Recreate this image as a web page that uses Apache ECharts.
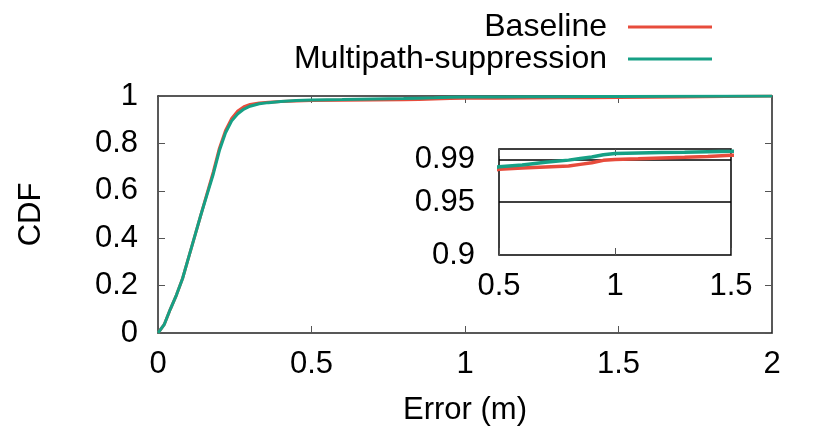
<!DOCTYPE html>
<html>
<head>
<meta charset="utf-8">
<script src="https://cdn.jsdelivr.net/npm/echarts@6/dist/echarts.min.js"></script>
<style>
  html, body { margin: 0; padding: 0; background: #fff; }
  #chart { width: 830px; height: 436px; }
</style>
</head>
<body>
<div id="chart"></div>
<script>
  // error (m) sample points of the CDF curves
  var errors = [0, 0.02, 0.04, 0.06, 0.08, 0.10, 0.12, 0.14, 0.16, 0.18, 0.20, 0.22, 0.24, 0.26, 0.28, 0.30,
    0.33, 0.36, 0.40, 0.45, 0.50, 0.60, 0.70, 0.80, 0.85, 0.90, 0.95, 1.00, 1.10, 1.20, 1.30, 1.40, 1.50, 1.70, 2.00]
  var baselineCdf = [0, 0.035, 0.10, 0.16, 0.23, 0.32, 0.41, 0.50, 0.59, 0.68, 0.78, 0.855, 0.905, 0.937, 0.955, 0.964,
    0.971, 0.974, 0.977, 0.979, 0.9808, 0.982, 0.983, 0.984, 0.9855, 0.987, 0.9893, 0.9902, 0.9908, 0.9915, 0.9922, 0.993, 0.994, 0.996, 1.0]
  var suppressionCdf = [0, 0.035, 0.10, 0.16, 0.23, 0.32, 0.41, 0.50, 0.585, 0.67, 0.77, 0.845, 0.895, 0.925, 0.945, 0.957,
    0.967, 0.972, 0.977, 0.981, 0.9833, 0.985, 0.9875, 0.9895, 0.991, 0.9925, 0.9945, 0.9957, 0.9962, 0.9966, 0.997, 0.9975, 0.9979, 0.999, 1.0]
  var insetYTicks = [0.9, 0.95, 0.99]
  var insetRefLines = [0.95, 0.99]

  var font = 'Liberation Sans'
  var fs = 31
  var red = '#e74c3c'
  var green = '#16a085'

  function pairs(ys) {
    return errors.map(function (x, i) { return [x, ys[i]] })
  }

  function mainAxis(extra) {
    return Object.assign({
      type: 'value',
      axisLine: { show: true, onZero: false, lineStyle: { color: '#222', width: 1.5 } },
      axisTick: { show: true, inside: true, length: 7, lineStyle: { color: '#555', width: 1 } },
      splitLine: { show: false },
      axisLabel: { color: '#000', fontFamily: font, fontSize: fs }
    }, extra)
  }

  var chart = echarts.init(document.getElementById('chart'))

  var lineSeries = function (name, ys, color, xi, yi, extra) {
    return Object.assign({
      name: name,
      type: 'line',
      xAxisIndex: xi,
      yAxisIndex: yi,
      data: pairs(ys),
      showSymbol: false,
      symbol: 'none',
      smooth: false,
      clip: true,
      animation: false,
      lineStyle: { color: color, width: 3 },
      itemStyle: { color: color }
    }, extra || {})
  }

  var legendBase = {
    right: 113,
    align: 'right',
    icon: 'rect',
    itemWidth: 84,
    itemHeight: 3,
    textStyle: { fontSize: 32, color: '#000', fontFamily: font, padding: [0, 16, 0, 0] }
  }

  chart.setOption({
    backgroundColor: '#fff',
    animation: false,
    textStyle: { fontFamily: font },
    legend: [
      Object.assign({ data: ['Baseline'], top: 6 }, legendBase),
      Object.assign({ data: ['Multipath-suppression'], top: 38 }, legendBase)
    ],
    grid: [{
      left: 158, right: 58, top: 96, bottom: 103, outerBoundsMode: 'none', containLabel: false
    }, {
      left: 499, right: 99, top: 149, bottom: 181, outerBoundsMode: 'none', containLabel: false,
      show: true, backgroundColor: '#fff', borderColor: '#000', borderWidth: 1.5, z: 5
    }],
    xAxis: [
      mainAxis({
        gridIndex: 0, min: 0, max: 2, interval: 0.5,
        name: 'Error (m)', nameLocation: 'middle', nameGap: 62,
        nameTextStyle: { fontFamily: font, fontSize: fs, color: '#000' },
        axisLabel: { color: '#000', fontFamily: font, fontSize: fs, margin: 16 }
      }),
      mainAxis({ gridIndex: 0, position: 'top', min: 0, max: 2, interval: 0.5, axisLabel: { show: false } }),
      mainAxis({
        gridIndex: 1, min: 0.5, max: 1.5, interval: 0.5, z: 6,
        axisLine: { show: false },
        axisLabel: { color: '#000', fontFamily: font, fontSize: fs, margin: 16 }
      }),
      mainAxis({ gridIndex: 1, position: 'top', min: 0.5, max: 1.5, interval: 0.5, z: 6, axisLine: { show: false }, axisLabel: { show: false } })
    ],
    yAxis: [
      mainAxis({
        gridIndex: 0, min: 0, max: 1, interval: 0.2,
        name: 'CDF', nameLocation: 'middle', nameGap: 111, nameRotate: 90,
        nameTextStyle: { fontFamily: font, fontSize: fs, color: '#000' },
        axisLabel: { color: '#000', fontFamily: font, fontSize: fs, margin: 20 }
      }),
      mainAxis({ gridIndex: 0, position: 'right', min: 0, max: 1, interval: 0.2, axisLabel: { show: false } }),
      mainAxis({
        gridIndex: 1, min: 0.9, max: 1, z: 6,
        axisLine: { show: false },
        axisTick: { show: false },
        axisLabel: {
          color: '#000', fontFamily: font, fontSize: fs, margin: 24,
          customValues: insetYTicks,
          formatter: function (v) { return String(+v.toFixed(2)) }
        }
      })
    ],
    series: [
      lineSeries('Baseline', baselineCdf, red, 0, 0),
      lineSeries('Multipath-suppression', suppressionCdf, green, 0, 0),
      lineSeries('Baseline', baselineCdf, red, 2, 2, {
        z: 7,
        lineStyle: { color: red, width: 3.5 },
        markLine: {
          silent: true,
          symbol: 'none',
          animation: false,
          label: { show: false },
          lineStyle: { color: '#000', type: 'solid', width: 1.5 },
          data: insetRefLines.map(function (v) { return { yAxis: v } })
        }
      }),
      lineSeries('Multipath-suppression', suppressionCdf, green, 2, 2, { z: 8, lineStyle: { color: green, width: 3.5 } })
    ]
  })
</script>
</body>
</html>
